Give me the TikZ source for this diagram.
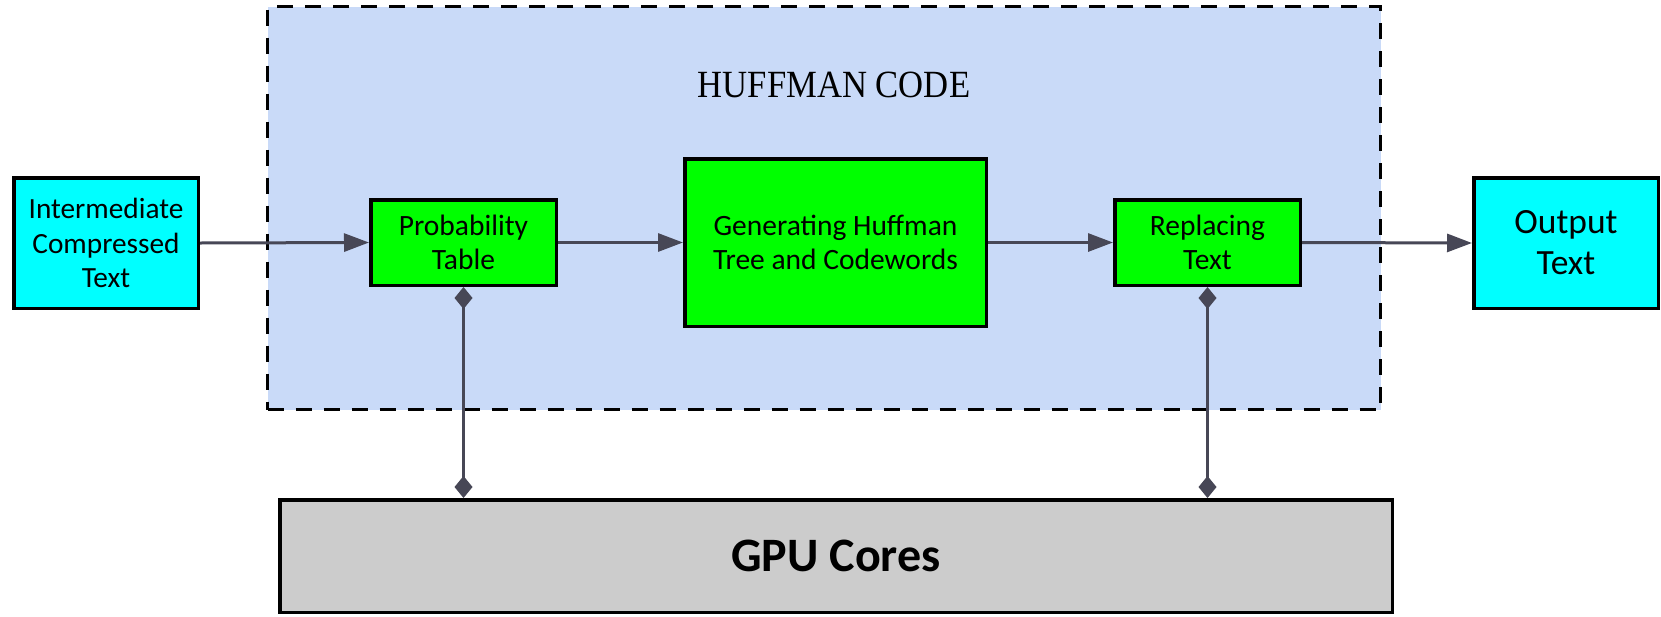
\documentclass[tikz,border=0pt]{standalone}
\usepackage{fontspec}
\usepackage{graphicx}
\setmainfont{Carlito}
\newfontfamily\hufffont{Liberation Serif}
\usetikzlibrary{arrows.meta}
\definecolor{conn}{HTML}{474756}
\definecolor{cyanbox}{HTML}{00FFFF}
\definecolor{greenbox}{HTML}{00FF00}
\definecolor{contfill}{HTML}{C9DAF8}
\definecolor{graybox}{HTML}{CCCCCC}
\tikzset{
  x=1pt, y=-1pt,
  boxbase/.style={draw=black, line width=3.5pt, align=center, inner sep=0pt, text=black},
  iobox/.style={boxbase, fill=cyanbox},
  procbox/.style={boxbase, fill=greenbox, font=\fontsize{29.5}{34.5}\selectfont},
  flow/.style={draw=conn, line width=3pt, -{Triangle[length=25pt,width=18pt]}},
  link/.style={draw=conn, line width=3pt, {Diamond[length=22pt,width=18pt]}-{Diamond[length=22pt,width=18pt]}},
}
\begin{document}
\begin{tikzpicture}
\useasboundingbox (0,0) rectangle (1661,616);
\node[draw=black, line width=3.5pt, dash pattern=on 16pt off 12pt, fill=contfill,
  minimum width=1113pt, minimum height=403pt, inner sep=0pt] (cont) at (824,208) {};
\node[font=\hufffont\fontsize{38.5}{44}\selectfont, inner sep=0pt] (title) at (834,85) {\scalebox{0.9}[1]{HUFFMAN CODE}};
\node[iobox, font=\fontsize{29.3}{34.5}\selectfont, minimum width=184.5pt, minimum height=130.5pt] (inter) at (106,243) {Intermediate\\Compressed\\Text};
\node[procbox, minimum width=185.5pt, minimum height=85.5pt] (prob) at (463.5,242.5) {Probability\\Table};
\node[procbox, minimum width=301.5pt, minimum height=167.5pt] (gen) at (835.5,242.5) {Generating Huffman\\Tree and Codewords};
\node[procbox, minimum width=185.5pt, minimum height=85.5pt] (rep) at (1207.5,242.5) {Replacing\\Text};
\node[iobox, font=\fontsize{35.5}{41}\selectfont, minimum width=184.5pt, minimum height=130.5pt] (out) at (1566,243) {Output\\Text};
\node[boxbase, fill=graybox, font=\bfseries\fontsize{48}{56}\selectfont, minimum width=1112.5pt, minimum height=112.5pt] (gpu) at (836,556) {GPU Cores};
\draw[flow] (inter.east) -- (prob.west);
\draw[flow] (prob.east) -- (gen.west);
\draw[flow] (gen.east) -- (rep.west);
\draw[flow] (rep.east) -- (out.west);
\draw[link] (prob.south) -- (prob.south |- gpu.north);
\draw[link] (rep.south) -- (rep.south |- gpu.north);
\end{tikzpicture}
\end{document}
